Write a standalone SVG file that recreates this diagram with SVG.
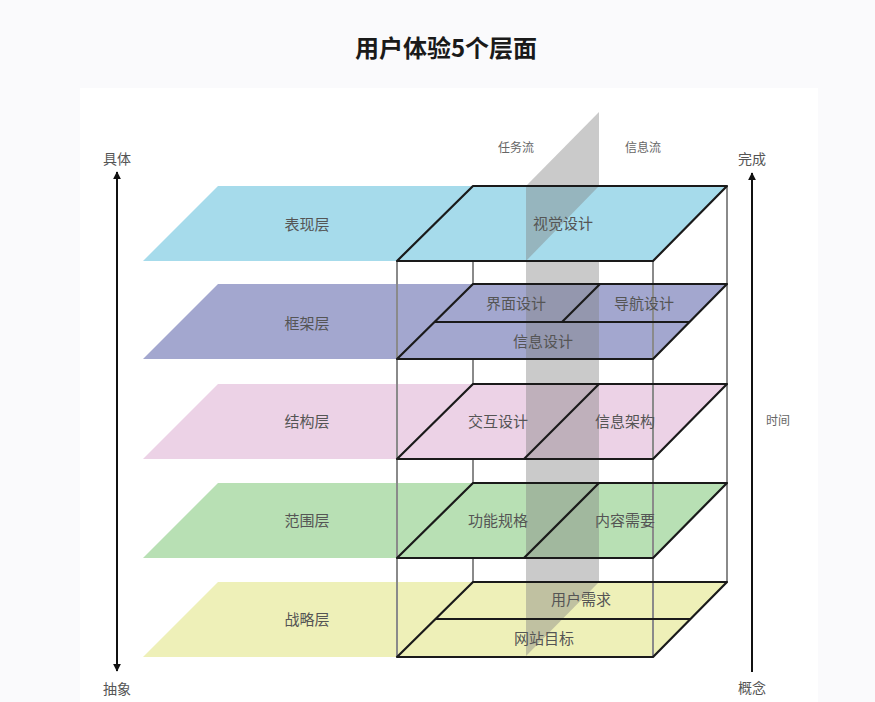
<svg xmlns="http://www.w3.org/2000/svg" width="875" height="702" viewBox="0 0 875 702">
<style>
.t{font-family:"Noto Sans CJK SC","Noto Sans",sans-serif;fill:#555;text-anchor:middle;font-size:15px}
.s{font-size:12px;fill:#666}
.ax{font-size:14px;fill:#555}
.ol{fill:none;stroke:#1a1a1a;stroke-width:2.2;stroke-linejoin:round}
.vb{stroke:#8a8a8a;stroke-width:2}
.ar{stroke:#111;stroke-width:2}
</style>
<defs>
<marker id="ah" viewBox="0 0 10 10" refX="9" refY="5" markerWidth="8" markerHeight="8" markerUnits="userSpaceOnUse" orient="auto">
<path d="M0,0 L10,5 L0,10 z" fill="#111"/>
</marker>
</defs>
<rect width="875" height="702" fill="#fafafc"/>
<rect x="80" y="88" width="738" height="614" fill="#ffffff"/>
<text x="446" y="57" style="font-family:'Noto Sans CJK SC','Noto Sans',sans-serif;font-weight:bold;font-size:24px;fill:#1a1a1a" text-anchor="middle">用户体验5个层面</text>

<g id="back-frame">
<line class="vb" x1="473" y1="186" x2="473" y2="582"/>
<line class="vb" x1="727" y1="186" x2="727" y2="582"/>
</g>

<g id="layer-surface">
<polygon points="218,186 727,186 653,261 143,261" fill="#a6dbeb"/>
</g>
<g id="layer-skeleton">
<polygon points="218,284 727,284 653,359 143,359" fill="#a3a7cf"/>
</g>
<g id="layer-structure">
<polygon points="218,384 727,384 653,459 143,459" fill="#ecd2e6"/>
</g>
<g id="layer-scope">
<polygon points="218,483 727,483 653,558 143,558" fill="#b8e0b4"/>
</g>
<g id="layer-strategy">
<polygon points="218,582 727,582 653,657 143,657" fill="#eef0b8"/>
</g>

<g id="flow-plane">
<polygon points="526,186 599,112 599,186 526,261" fill="#808080" fill-opacity="0.42"/>
<polygon points="526,261 599,261 599,582 526,656" fill="#808080" fill-opacity="0.42"/>
</g>

<g id="front-frame">
<line class="vb" x1="397" y1="261" x2="397" y2="657"/>
<line class="vb" x1="653" y1="261" x2="653" y2="657"/>
</g>

<g id="outlines">
<polygon class="ol" points="473,186 727,186 653,261 397,261"/>
<polygon class="ol" points="473,284 727,284 653,359 397,359"/>
<line class="ol" x1="435" y1="322" x2="689" y2="322"/>
<line class="ol" x1="600" y1="284" x2="562" y2="322"/>
<polygon class="ol" points="473,384 727,384 653,459 397,459"/>
<line class="ol" x1="599" y1="384" x2="524" y2="459"/>
<polygon class="ol" points="473,483 727,483 653,558 397,558"/>
<line class="ol" x1="599" y1="483" x2="524" y2="558"/>
<polygon class="ol" points="473,582 727,582 653,657 397,657"/>
<line class="ol" x1="435" y1="619" x2="690" y2="619"/>
</g>

<g id="labels">
<text class="t" x="307" y="230">表现层</text>
<text class="t" x="563" y="229">视觉设计</text>
<text class="t" x="307" y="329">框架层</text>
<text class="t" x="516" y="309">界面设计</text>
<text class="t" x="644" y="309">导航设计</text>
<text class="t" x="543" y="347">信息设计</text>
<text class="t" x="307" y="427">结构层</text>
<text class="t" x="498" y="427">交互设计</text>
<text class="t" x="625" y="427">信息架构</text>
<text class="t" x="307" y="526">范围层</text>
<text class="t" x="498" y="526">功能规格</text>
<text class="t" x="625" y="526">内容需要</text>
<text class="t" x="307" y="625">战略层</text>
<text class="t" x="581" y="605">用户需求</text>
<text class="t" x="544" y="644">网站目标</text>
<text class="t s" x="516" y="152">任务流</text>
<text class="t s" x="643" y="152">信息流</text>
</g>

<g id="connectors">
<line class="ar" x1="117" y1="420" x2="117" y2="172" marker-end="url(#ah)"/>
<line class="ar" x1="117" y1="420" x2="117" y2="671" marker-end="url(#ah)"/>
<line class="ar" x1="752" y1="672" x2="752" y2="173" marker-end="url(#ah)"/>
</g>

<g id="axis-labels">
<text class="t ax" x="117" y="164">具体</text>
<text class="t ax" x="117" y="694">抽象</text>
<text class="t ax" x="752" y="164">完成</text>
<text class="t ax" x="752" y="693">概念</text>
<text class="t s" x="778" y="425">时间</text>
</g>
</svg>
